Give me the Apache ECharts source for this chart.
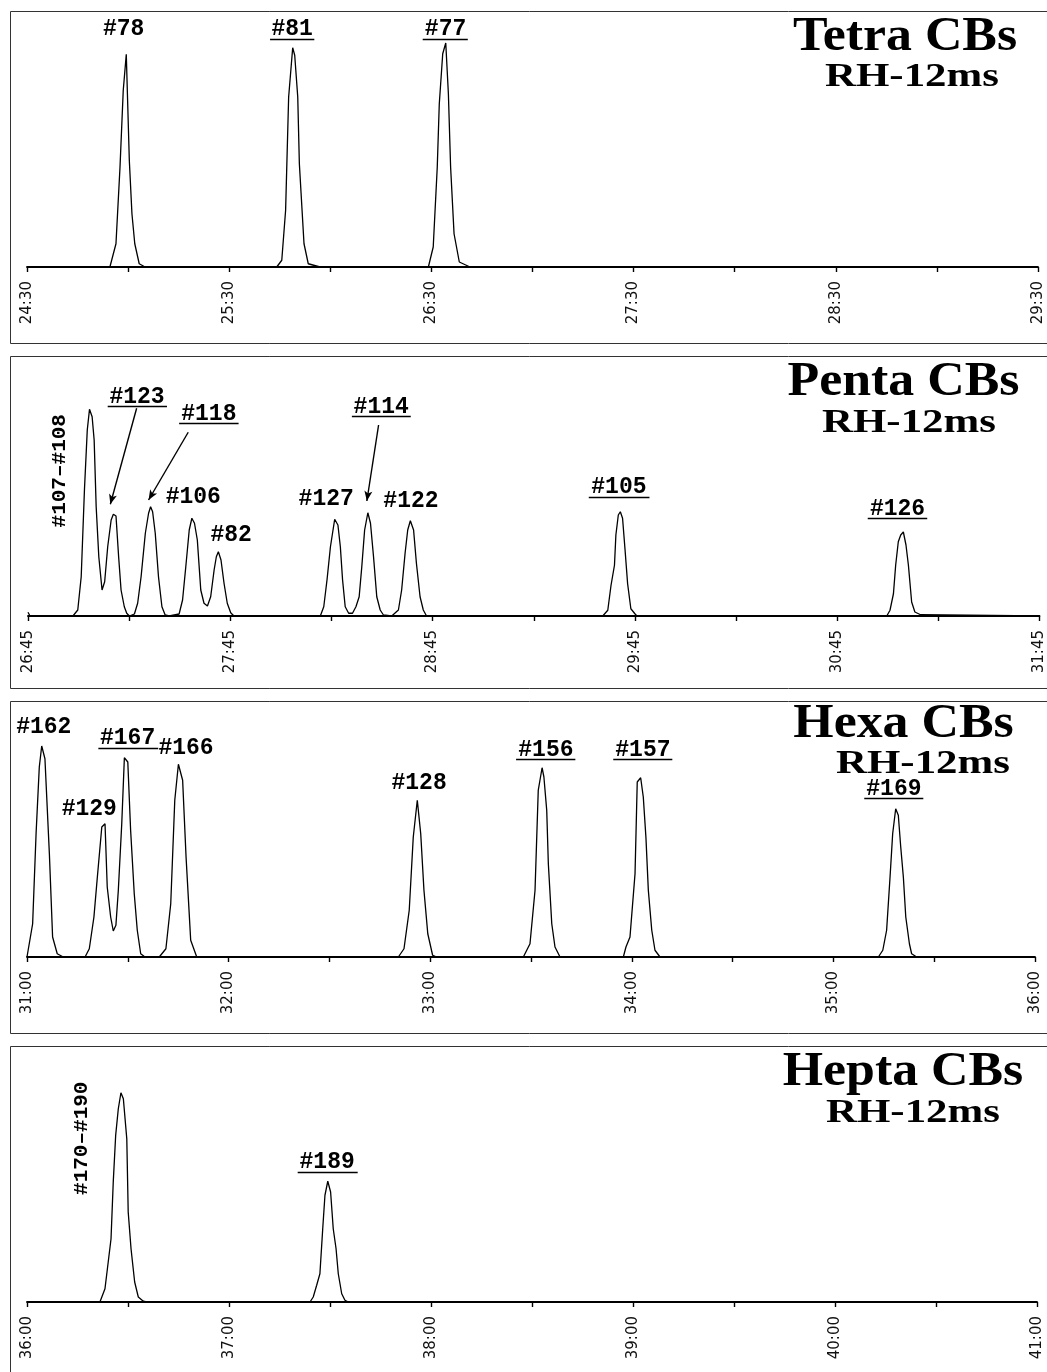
<!DOCTYPE html>
<html>
<head>
<meta charset="utf-8">
<script src="https://cdn.jsdelivr.net/npm/echarts@6/dist/echarts.min.js"></script>
<style>
html, body { margin: 0; padding: 0; background: #fff; }
#main { width: 1047px; height: 1372px; }
</style>
</head>
<body>
<div id="main"></div>
<script>
var chartDom = document.getElementById('main');
var myChart = echarts.init(chartDom);

// retention time in minutes, relative intensity
var tetraTrace = [
  [24.5, 0],
  [24.910, 0], [24.940, 9.3], [24.960, 40], [24.976, 70.7], [24.991, 85.1], [25.006, 42.7], [25.019, 21.3], [25.033, 9.3], [25.055, 1.3], [25.084, 0],
  [25.735, 0], [25.760, 2.7], [25.779, 22.7], [25.794, 68], [25.814, 87.7], [25.824, 84.7], [25.839, 68], [25.847, 41.3], [25.870, 9.3], [25.891, 1.3], [25.949, 0],
  [26.485, 0], [26.509, 8], [26.529, 40], [26.539, 65.3], [26.556, 85.3], [26.571, 89.6], [26.584, 69.3], [26.595, 40], [26.612, 13.3], [26.638, 2], [26.691, 0],
  [29.5, 0]
];
var pentaTrace = [
  [26.75, 1.5], [26.76, 0],
  [26.972, 0], [26.996, 2.4], [27.013, 15.7], [27.029, 50.4], [27.043, 74.4], [27.054, 82.7], [27.067, 79.7], [27.077, 70.4], [27.087, 43.7], [27.100, 23.7], [27.116, 10.4],
  [27.129, 13.7], [27.144, 27.7], [27.161, 38.4], [27.172, 40.7], [27.185, 40], [27.198, 23.7], [27.210, 10.4], [27.226, 3.7], [27.238, 1.1], [27.251, 0],
  [27.276, 0.8], [27.292, 5.1], [27.309, 15.7], [27.330, 33.1], [27.346, 41.1], [27.356, 43.7], [27.366, 41.7], [27.379, 33.1], [27.395, 15.7], [27.412, 3.7], [27.428, 0.4], [27.448, 0],
  [27.497, 0.8], [27.514, 6.4], [27.530, 19.7], [27.547, 34.4], [27.560, 39.1], [27.573, 37.1], [27.587, 30.4], [27.604, 10.4], [27.620, 5.1], [27.637, 4],
  [27.653, 7.7], [27.670, 18.4], [27.681, 23.7], [27.691, 25.7], [27.704, 22.4], [27.719, 13.1], [27.735, 5.1], [27.752, 1.3], [27.768, 0],
  [28.195, 0], [28.212, 3.7], [28.228, 14.4], [28.245, 27.7], [28.266, 38.7], [28.282, 36.4], [28.294, 27.7], [28.305, 14.4], [28.318, 3.7], [28.335, 1.1],
  [28.354, 1.1], [28.371, 3.7], [28.387, 7.7], [28.400, 19.7], [28.414, 34.4], [28.430, 41.3], [28.443, 37.1], [28.458, 23.7], [28.474, 7.7], [28.491, 2.4], [28.507, 0.4],
  [28.548, 0], [28.581, 2.4], [28.597, 10.4], [28.614, 25.1], [28.627, 34.4], [28.640, 38.1], [28.656, 34.4], [28.670, 21.1], [28.688, 7.7], [28.704, 2.4], [28.720, 0],
  [29.591, 0], [29.616, 2.3], [29.632, 12.3], [29.649, 20.3], [29.656, 32.4], [29.668, 40.4], [29.678, 41.7], [29.689, 39.1], [29.701, 26.8], [29.714, 12.9], [29.730, 2.9], [29.750, 0.9], [29.760, 0],
  [30.995, 0], [31.011, 2.3], [31.028, 8.9], [31.039, 20.3], [31.052, 29.7], [31.064, 32.4], [31.077, 33.6], [31.090, 28.4], [31.102, 20.3], [31.118, 5.6], [31.134, 1.6], [31.162, 0.5], [31.167, 0],
  [31.75, 0]
];
var hexaTrace = [
  [31.0, 0], [31.028, 13.3], [31.045, 49.3], [31.061, 76], [31.073, 84.4], [31.089, 79.3], [31.111, 41.3], [31.127, 8], [31.150, 1.3], [31.180, 0],
  [31.288, 0], [31.309, 3.3], [31.332, 16], [31.349, 32], [31.371, 52], [31.387, 53.3], [31.398, 28], [31.415, 16], [31.428, 10.4],
  [31.441, 12.7], [31.453, 26.7], [31.470, 53.3], [31.483, 79.7], [31.500, 78], [31.514, 50.7], [31.532, 25.3], [31.547, 10.7], [31.564, 1.3], [31.585, 0],
  [31.656, 0], [31.689, 3.3], [31.713, 21.3], [31.733, 62.7], [31.751, 77.1], [31.772, 70.7], [31.789, 40], [31.812, 6.7], [31.842, 0],
  [32.842, 0], [32.870, 3.3], [32.896, 18.7], [32.916, 48], [32.936, 62.7], [32.953, 49.3], [32.969, 26.7], [32.988, 9.3], [33.012, 0.7], [33.032, 0],
  [33.462, 0], [33.495, 5.3], [33.520, 26.7], [33.536, 66.7], [33.555, 75.7], [33.564, 72], [33.578, 58.7], [33.586, 37.3], [33.603, 13.3], [33.619, 4], [33.644, 0],
  [33.958, 0], [33.971, 4], [33.991, 8], [34.016, 33.3], [34.027, 70], [34.044, 71.7], [34.057, 64], [34.070, 48], [34.082, 26.7], [34.099, 10.7], [34.115, 2.7], [34.140, 0],
  [35.223, 0], [35.245, 2.7], [35.264, 10.7], [35.281, 32], [35.294, 49.3], [35.309, 59.3], [35.322, 56.7], [35.334, 44], [35.347, 32], [35.359, 16], [35.377, 5.3], [35.388, 1.3], [35.413, 0],
  [36.0, 0]
];
var heptaTrace = [
  [36.0, 0],
  [36.361, 0], [36.386, 5.3], [36.398, 13.3], [36.416, 25.3], [36.427, 48], [36.439, 66.7], [36.452, 77.3], [36.465, 83.7], [36.477, 81.3],
  [36.494, 65.3], [36.501, 36], [36.515, 21.3], [36.533, 8], [36.551, 2], [36.576, 0.3], [36.593, 0],
  [37.401, 0], [37.417, 2], [37.434, 6.7], [37.450, 11.3], [37.464, 29.3], [37.475, 42.7], [37.489, 48.3], [37.503, 44], [37.516, 29.3], [37.530, 21.3], [37.541, 11.3], [37.558, 3.3], [37.574, 0.7], [37.591, 0],
  [41.0, 0]
];

// axis ticks (every 30 s) and labelled ticks (every minute)
var tetraTicks = [24.5, 25, 25.5, 26, 26.5, 27, 27.5, 28, 28.5, 29, 29.5];
var tetraTickLabels = [24.5, 25.5, 26.5, 27.5, 28.5, 29.5];
var pentaTicks = [26.75, 27.25, 27.75, 28.25, 28.75, 29.25, 29.75, 30.25, 30.75, 31.25, 31.75];
var pentaTickLabels = [26.75, 27.75, 28.75, 29.75, 30.75, 31.75];
var hexaTicks = [31, 31.5, 32, 32.5, 33, 33.5, 34, 34.5, 35, 35.5, 36];
var hexaTickLabels = [31, 32, 33, 34, 35, 36];
var heptaTicks = [36, 36.5, 37, 37.5, 38, 38.5, 39, 39.5, 40, 40.5, 41];
var heptaTickLabels = [36, 37, 38, 39, 40, 41];

// peak labels: [text, time, intensity]
var tetraLabels = [['#78', 24.978, 95.3], ['#81', 25.811, 95.3], ['#77', 26.570, 95.3]];
var tetraUnderlines = [[25.702, 25.921, 91.1], [26.457, 26.680, 91.1]];

var pentaLabels = [['#123', 27.289, 87.5], ['#118', 27.644, 80.9], ['#106', 27.567, 47.4], ['#82', 27.754, 32.5],
  ['#127', 28.224, 46.9], ['#114', 28.496, 83.7], ['#122', 28.643, 46.1], ['#105', 29.671, 51.4], ['#126', 31.048, 42.7]];
var pentaVertical = [['#107–#108', 26.906, 58.1]];
var pentaUnderlines = [[27.144, 27.437, 84], [27.497, 27.791, 77.1], [28.351, 28.642, 80], [29.522, 29.822, 47.7], [30.901, 31.195, 39.3]];
var pentaArrows = [[27.287, 83.1, 27.157, 44.7], [27.542, 73.5, 27.346, 46.4], [28.483, 76.4, 28.425, 46]];

var hexaLabels = [['#162', 31.083, 91.9], ['#129', 31.309, 59.1], ['#167', 31.499, 87.7], ['#166', 31.789, 83.5],
  ['#128', 32.945, 69.5], ['#156', 33.574, 82.6], ['#157', 34.055, 82.6], ['#169', 35.300, 67.3]];
var hexaUnderlines = [[31.354, 31.651, 83.7], [33.426, 33.720, 79.1], [33.908, 34.201, 79.1], [35.153, 35.446, 63.7]];

var heptaLabels = [['#189', 37.486, 55.9]];
var heptaVertical = [['#170–#190', 36.272, 65.5]];
var heptaUnderlines = [[37.340, 37.637, 52.1]];

var panels = [
  { title: 'Tetra CBs', trace: tetraTrace, ticks: tetraTicks, tickLabels: tetraTickLabels, labels: tetraLabels, vertical: [], underlines: tetraUnderlines, arrows: [] },
  { title: 'Penta CBs', trace: pentaTrace, ticks: pentaTicks, tickLabels: pentaTickLabels, labels: pentaLabels, vertical: pentaVertical, underlines: pentaUnderlines, arrows: pentaArrows },
  { title: 'Hexa CBs', trace: hexaTrace, ticks: hexaTicks, tickLabels: hexaTickLabels, labels: hexaLabels, vertical: [], underlines: hexaUnderlines, arrows: [] },
  { title: 'Hepta CBs', trace: heptaTrace, ticks: heptaTicks, tickLabels: heptaTickLabels, labels: heptaLabels, vertical: heptaVertical, underlines: heptaUnderlines, arrows: [] }
];
var subTitle = 'RH-12ms';

// layout (pixels)
var grids = [
  { left: 27, top: 17, width: 1011, height: 250 },
  { left: 28, top: 366, width: 1015, height: 250 },
  { left: 27, top: 707, width: 1008, height: 250 },
  { left: 27, top: 1052, width: 1010, height: 250 }
];
var boxes = [[10, 11, 1045, 332], [10, 356, 1045, 332], [10, 701, 1045, 332], [10, 1046, 1045, 340]];
var titlePos = [[905, 38, 912, 77], [903.5, 383, 909, 423.5], [903.5, 725, 923, 764], [903, 1072.5, 913, 1113.5]];

function fmtTime(v) {
  var m = Math.floor(v + 1e-6);
  var s = Math.round((v - m) * 60);
  return m + ':' + (s < 10 ? '0' : '') + s;
}

var labelFont = { fontFamily: '"Liberation Mono", "DejaVu Sans Mono", monospace', fontWeight: 'bold', color: '#000' };

var option = {
  backgroundColor: '#fff',
  animation: false,
  grid: [],
  xAxis: [],
  yAxis: [],
  series: [],
  graphic: []
};

panels.forEach(function (p, i) {
  option.grid.push(grids[i]);
  option.xAxis.push({
    type: 'value',
    gridIndex: i,
    min: p.ticks[0],
    max: p.ticks[p.ticks.length - 1],
    axisLine: { onZero: false, lineStyle: { color: '#000', width: 1.8 } },
    axisTick: { customValues: p.ticks, length: 5, lineStyle: { color: '#000', width: 1.4 } },
    axisLabel: {
      customValues: p.tickLabels,
      rotate: 90,
      margin: 14,
      formatter: fmtTime,
      fontFamily: '"DejaVu Sans", sans-serif',
      fontSize: 15,
      color: '#111'
    },
    splitLine: { show: false }
  });
  option.yAxis.push({ type: 'value', gridIndex: i, min: 0, max: 100, show: false });

  var points = p.labels.map(function (l) {
    return { name: l[0], coord: [l[1], l[2]], label: { fontSize: 23 } };
  }).concat(p.vertical.map(function (l) {
    return { name: l[0], coord: [l[1], l[2]], label: { fontSize: 21, rotate: 90 } };
  }));

  var lines = p.underlines.map(function (u) {
    return [{ coord: [u[0], u[2]], symbol: 'none' }, { coord: [u[1], u[2]], symbol: 'none' }];
  }).concat(p.arrows.map(function (a) {
    return [{ coord: [a[0], a[1]], symbol: 'none' }, { coord: [a[2], a[3]], symbol: 'arrow', symbolSize: [6, 10] }];
  }));

  option.series.push({
    type: 'line',
    xAxisIndex: i,
    yAxisIndex: i,
    data: p.trace,
    symbol: 'none',
    silent: true,
    clip: false,
    lineStyle: { color: '#000', width: 1.3 },
    markPoint: {
      silent: true,
      symbol: 'circle',
      symbolSize: 1,
      itemStyle: { color: 'rgba(0,0,0,0)' },
      label: Object.assign({ show: true, position: 'inside', formatter: '{b}' }, labelFont),
      data: points
    },
    markLine: {
      silent: true,
      animation: false,
      label: { show: false },
      lineStyle: { color: '#000', width: 1.4, type: 'solid' },
      data: lines
    }
  });

  var b = boxes[i];
  option.graphic.push({
    type: 'rect',
    shape: { x: b[0] + 0.5, y: b[1] + 0.5, width: b[2], height: b[3] },
    style: { fill: 'none', stroke: '#333', lineWidth: 1 },
    silent: true
  });
  var t = titlePos[i];
  option.graphic.push({
    type: 'text',
    x: t[0], y: t[1], scaleX: 1.08,
    style: {
      text: p.title, fill: '#000',
      font: 'bold 48px "Liberation Serif", "DejaVu Serif", serif',
      textAlign: 'center', textVerticalAlign: 'middle', align: 'center', verticalAlign: 'middle'
    },
    silent: true
  });
  option.graphic.push({
    type: 'text',
    x: t[2], y: t[3], scaleX: 1.3,
    style: {
      text: subTitle, fill: '#000',
      font: 'bold 33px "Liberation Serif", "DejaVu Serif", serif',
      textAlign: 'center', textVerticalAlign: 'middle', align: 'center', verticalAlign: 'middle'
    },
    silent: true
  });
});

option && myChart.setOption(option);
</script>
</body>
</html>
